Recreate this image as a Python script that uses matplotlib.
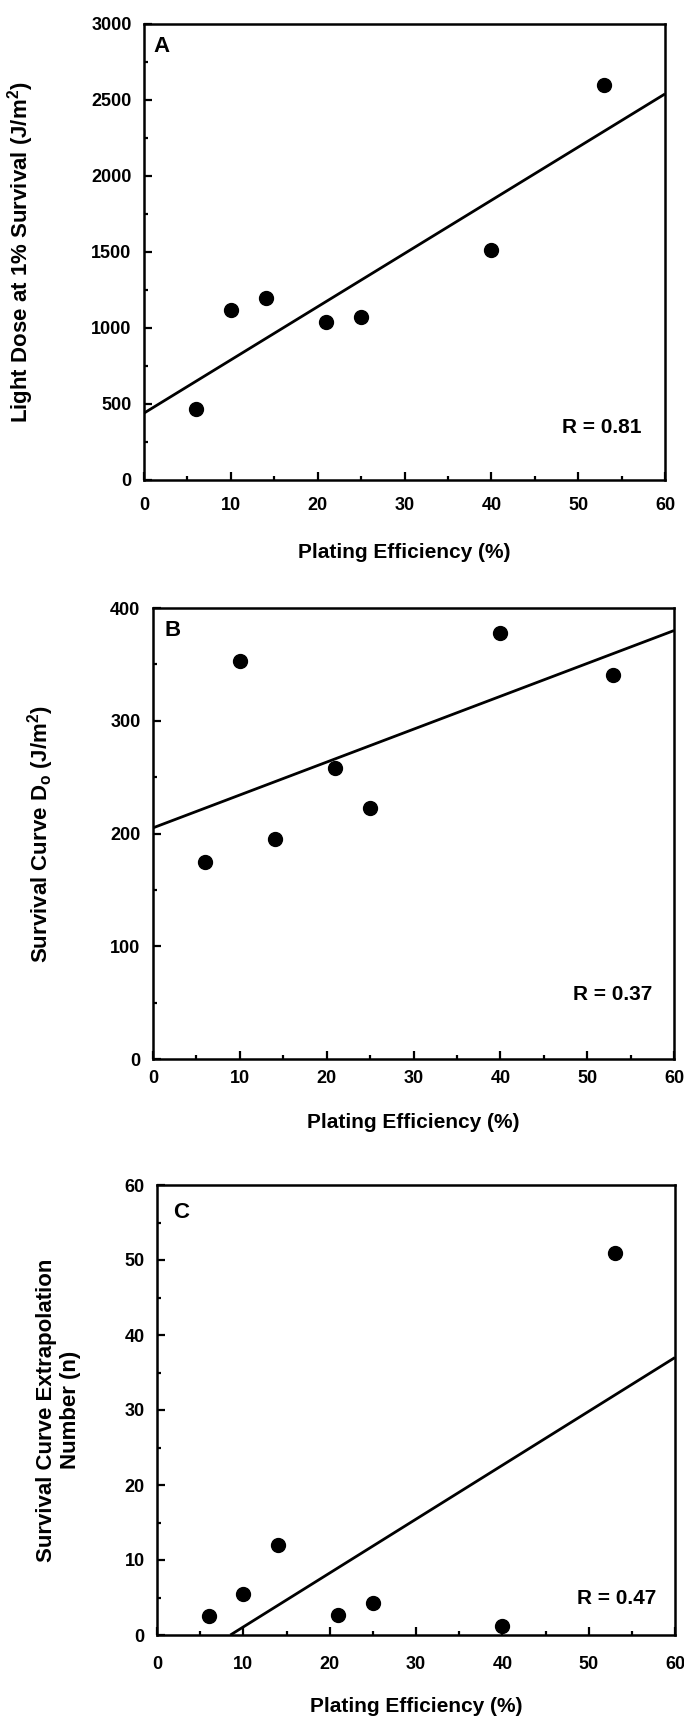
import matplotlib
matplotlib.use("Agg")
import matplotlib.pyplot as plt
from matplotlib.ticker import MultipleLocator

plt.rcParams['font.family'] = ['Liberation Sans', 'DejaVu Sans']
plt.rcParams['font.weight'] = 'bold'
plt.rcParams['mathtext.fontset'] = 'custom'
plt.rcParams['mathtext.rm'] = 'Liberation Sans:bold'
plt.rcParams['mathtext.it'] = 'Liberation Sans:bold'
plt.rcParams['mathtext.bf'] = 'Liberation Sans:bold'

# ---- data ----
plating_eff = [6, 10, 14, 21, 25, 40, 53]

dose_1pct = [470, 1120, 1195, 1040, 1075, 1515, 2600]
fit_a_x = [0, 60]
fit_a_y = [440, 2540]

d0 = [175, 353, 195, 258, 223, 378, 341]
fit_b_x = [0, 60]
fit_b_y = [205, 380]

n_extrap = [2.5, 5.5, 12, 2.7, 4.3, 1.2, 51]
fit_c_x = [8.5, 60]
fit_c_y = [0, 37]

panel_letters = ["A", "B", "C"]
r_labels = ["R = 0.81", "R = 0.37", "R = 0.47"]
ylabels = ["Light Dose at 1% Survival (J/m$^{2}$)",
           "Survival Curve D$_{o}$ (J/m$^{2}$)",
           "Survival Curve Extrapolation\nNumber (n)"]
xlabel = "Plating Efficiency (%)"

fig = plt.figure(figsize=(6.84, 17.18), dpi=100)

W, H = 684.0, 1718.0
def rect(l, r, t, b):
    return [l / W, 1 - b / H, (r - l) / W, (b - t) / H]

panels = [
    dict(rect=rect(144, 665, 24, 480), y=dose_1pct, fx=fit_a_x, fy=fit_a_y,
         ylim=3000, major=500, minor=250, xpad=12, xlab_y=-72 / 456, ylab_x=-0.236,
         letter=(0.019, 0.95), r=(0.954, 0.116)),
    dict(rect=rect(153, 674, 608, 1059), y=d0, fx=fit_b_x, fy=fit_b_y,
         ylim=400, major=100, minor=50, xpad=8, xlab_y=-63 / 451, ylab_x=-0.215,
         letter=(0.023, 0.951), r=(0.958, 0.144)),
    dict(rect=rect(157, 675, 1185, 1635), y=n_extrap, fx=fit_c_x, fy=fit_c_y,
         ylim=60, major=10, minor=5, xpad=15, xlab_y=-72 / 450, ylab_x=-0.19,
         letter=(0.031, 0.938), r=(0.963, 0.082)),
]

for i, p in enumerate(panels):
    ax = fig.add_axes(p['rect'])
    ax.plot(p['fx'], p['fy'], color='black', lw=2.0, solid_capstyle='butt')
    ax.plot(plating_eff, p['y'], 'o', color='black', ms=10, clip_on=False)
    ax.set_xlim(0, 60)
    ax.set_ylim(0, p['ylim'])
    ax.xaxis.set_major_locator(MultipleLocator(10))
    ax.xaxis.set_minor_locator(MultipleLocator(5))
    ax.yaxis.set_major_locator(MultipleLocator(p['major']))
    ax.yaxis.set_minor_locator(MultipleLocator(p['minor']))
    for s in ax.spines.values():
        s.set_linewidth(1.8)
    ax.tick_params(which='both', direction='in', top=False, right=False,
                   width=1.6, labelsize=13)
    ax.tick_params(which='major', length=6)
    ax.tick_params(which='minor', length=3)
    ax.tick_params(axis='x', which='major', pad=p['xpad'])
    ax.tick_params(axis='y', which='major', pad=9)
    for lab in ax.get_xticklabels() + ax.get_yticklabels():
        lab.set_fontweight('bold')
    ax.set_xlabel(xlabel, fontsize=15, fontweight='bold', va='center')
    ax.xaxis.set_label_coords(0.5, p['xlab_y'])
    ax.set_ylabel(ylabels[i], fontsize=16, fontweight='bold', va='center',
                  multialignment='center', linespacing=1.2)
    ax.yaxis.set_label_coords(p['ylab_x'], 0.5)
    ax.text(p['letter'][0], p['letter'][1], panel_letters[i], transform=ax.transAxes,
            fontsize=16, fontweight='bold', ha='left', va='center')
    ax.text(p['r'][0], p['r'][1], r_labels[i], transform=ax.transAxes,
            fontsize=15, fontweight='bold', ha='right', va='center')

fig.savefig("out.png", dpi=100)
